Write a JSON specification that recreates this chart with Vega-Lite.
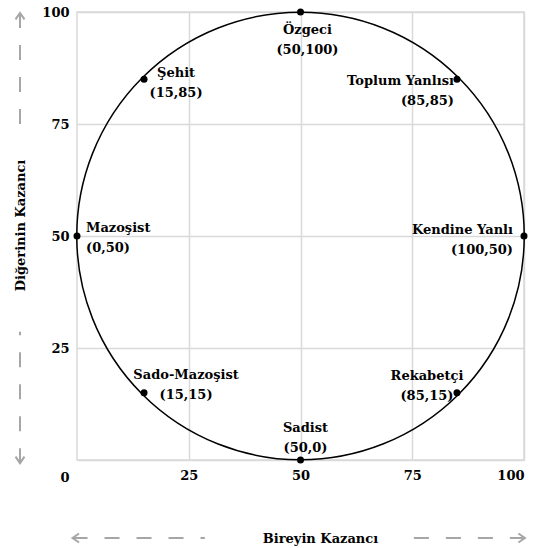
{
  "$schema": "https://vega.github.io/schema/vega-lite/v6.json",
  "width": 447,
  "height": 448,
  "autosize": {"type": "none"},
  "padding": {"left": 77, "top": 12, "right": 11, "bottom": 88},
  "background": "white",
  "config": {
    "view": {"stroke": "#d9d9d9", "strokeWidth": 1.5},
    "font": "DejaVu Serif",
    "axis": {
      "grid": true,
      "gridColor": "#d9d9d9",
      "gridWidth": 1.5,
      "domain": false,
      "ticks": false,
      "tickSize": 0,
      "labelFont": "DejaVu Serif",
      "labelFontSize": 13,
      "labelFontWeight": "bold",
      "labelColor": "black",
      "titleFont": "DejaVu Serif",
      "titleFontSize": 13,
      "titleFontWeight": "bold",
      "titleColor": "black"
    },
    "text": {"font": "DejaVu Serif", "fontSize": 13, "fontWeight": "bold", "color": "black", "lineBreak": "\n", "lineHeight": 20, "baseline": "top"}
  },
  "datasets": {
    "points": [
      {"name": "Özgeci", "x": 50, "y": 100, "label": "Özgeci\n(50,100)"},
      {"name": "Şehit", "x": 15, "y": 85, "label": "Şehit\n(15,85)"},
      {"name": "Toplum Yanlısı", "x": 85, "y": 85, "label": "Toplum Yanlısı\n(85,85)"},
      {"name": "Mazoşist", "x": 0, "y": 50, "label": "Mazoşist\n(0,50)"},
      {"name": "Kendine Yanlı", "x": 100, "y": 50, "label": "Kendine Yanlı\n(100,50)"},
      {"name": "Sado-Mazoşist", "x": 15, "y": 15, "label": "Sado-Mazoşist\n(15,15)"},
      {"name": "Rekabetçi", "x": 85, "y": 15, "label": "Rekabetçi\n(85,15)"},
      {"name": "Sadist", "x": 50, "y": 0, "label": "Sadist\n(50,0)"}
    ],
    "center": [{"x": 50, "y": 50}],
    "arrows": [
      {"x": -1, "x2": 28.6, "y": -17.4, "y2": -17.4},
      {"x": 100.2, "x2": 75.2, "y": -17.4, "y2": -17.4},
      {"x": -12.75, "x2": -12.75, "y": 99.8, "y2": 74.8},
      {"x": -12.75, "x2": -12.75, "y": -0.7, "y2": 28.6}
    ],
    "heads": [
      {"x": -1, "y": -17.4, "dir": "left"},
      {"x": 100.2, "y": -17.4, "dir": "right"},
      {"x": -12.75, "y": 99.8, "dir": "up"},
      {"x": -12.75, "y": -0.7, "dir": "down"}
    ]
  },
  "encoding": {
    "x": {
      "field": "x", "type": "quantitative",
      "scale": {"domain": [0, 100], "nice": false, "zero": false},
      "axis": {"values": [25, 50, 75, 100], "labelPadding": 9, "title": "Bireyin Kazancı", "titleX": 243, "titleY": 78, "titleBaseline": "middle", "titleAlign": "center"}
    },
    "y": {
      "field": "y", "type": "quantitative",
      "scale": {"domain": [0, 100], "nice": false, "zero": false},
      "axis": {
        "values": [0, 25, 50, 75, 100],
        "labelPadding": 8,
        "labelOffset": {"condition": {"test": "datum.value === 0", "value": 17}, "value": 0},
        "title": "Diğerinin Kazancı", "titleX": -57, "titleY": 213, "titleAngle": -90, "titleBaseline": "middle", "titleAlign": "center"
      }
    }
  },
  "layer": [
    {
      "data": {"name": "arrows"},
      "mark": {"type": "rule", "color": "#a6a6a6", "strokeWidth": 2, "strokeDash": [15, 17]},
      "encoding": {"x2": {"field": "x2"}, "y2": {"field": "y2"}}
    },
    {
      "data": {"name": "heads"},
      "mark": {"type": "point", "filled": false, "stroke": "#a6a6a6", "strokeWidth": 2, "size": 100, "opacity": 1},
      "encoding": {
        "shape": {"field": "dir", "type": "nominal", "legend": null,
          "scale": {"domain": ["up", "down", "left", "right"],
            "range": ["M-0.9,1.3L0,0L0.9,1.3", "M-0.9,-1.3L0,0L0.9,-1.3", "M1.3,-0.9L0,0L1.3,0.9", "M-1.3,-0.9L0,0L-1.3,0.9"]}}
      }
    },
    {
      "data": {"name": "center"},
      "mark": {"type": "point", "shape": "circle", "filled": false, "stroke": "black", "strokeWidth": 1.5, "size": 200256, "opacity": 1}
    },
    {
      "data": {"name": "points"},
      "mark": {"type": "point", "shape": "circle", "filled": true, "color": "black", "size": 49, "opacity": 1}
    },
    {
      "data": {"name": "points"},
      "transform": [{"filter": "datum.name === 'Özgeci'"}],
      "mark": {"type": "text", "align": "center", "dx": 7, "dy": 12},
      "encoding": {"text": {"field": "label"}}
    },
    {
      "data": {"name": "points"},
      "transform": [{"filter": "datum.name === 'Şehit'"}],
      "mark": {"type": "text", "align": "center", "dx": 32, "dy": -12},
      "encoding": {"text": {"field": "label"}}
    },
    {
      "data": {"name": "points"},
      "transform": [{"filter": "datum.name === 'Toplum Yanlısı'"}],
      "mark": {"type": "text", "align": "right", "dx": -3, "dy": -4},
      "encoding": {"text": {"field": "label"}}
    },
    {
      "data": {"name": "points"},
      "transform": [{"filter": "datum.name === 'Mazoşist'"}],
      "mark": {"type": "text", "align": "left", "dx": 9, "dy": -14},
      "encoding": {"text": {"field": "label"}}
    },
    {
      "data": {"name": "points"},
      "transform": [{"filter": "datum.name === 'Kendine Yanlı'"}],
      "mark": {"type": "text", "align": "right", "dx": -11, "dy": -12},
      "encoding": {"text": {"field": "label"}}
    },
    {
      "data": {"name": "points"},
      "transform": [{"filter": "datum.name === 'Sado-Mazoşist'"}],
      "mark": {"type": "text", "align": "center", "dx": 42, "dy": -24},
      "encoding": {"text": {"field": "label"}}
    },
    {
      "data": {"name": "points"},
      "transform": [{"filter": "datum.name === 'Rekabetçi'"}],
      "mark": {"type": "text", "align": "center", "dx": -30, "dy": -23},
      "encoding": {"text": {"field": "label"}}
    },
    {
      "data": {"name": "points"},
      "transform": [{"filter": "datum.name === 'Sadist'"}],
      "mark": {"type": "text", "align": "center", "dx": 5, "dy": -38},
      "encoding": {"text": {"field": "label"}}
    }
  ]
}
